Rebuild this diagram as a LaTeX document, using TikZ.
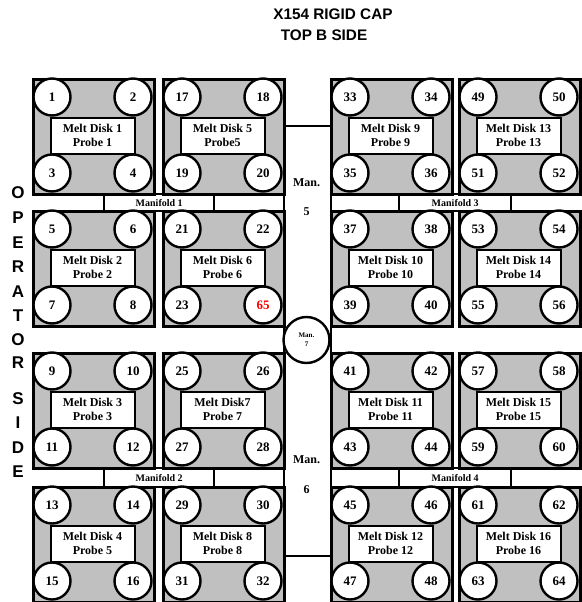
\documentclass[tikz,border=0pt]{standalone}
\usepackage{fontspec}
\setmainfont{Liberation Serif}
\newfontfamily\arialfont{Liberation Sans}
\definecolor{blockgray}{RGB}{192,192,192}
\begin{document}
\begin{tikzpicture}[x=1pt,y=-1pt,
  blockbox/.style={draw=black,fill=blockgray,line width=2.6pt,minimum width=121pt,minimum height=115pt,inner sep=0pt,anchor=north west},
  pin/.style={circle,draw=black,fill=white,line width=2.4pt,minimum size=37pt,inner sep=0pt,font=\bfseries\fontsize{13}{13}\selectfont},
  disklabel/.style={draw=black,fill=white,line width=2pt,minimum width=84pt,minimum height=36pt,inner sep=0pt,align=center,font=\bfseries\fontsize{12}{14}\selectfont},
  mbar/.style={draw=black,fill=white,line width=2.4pt,inner sep=0pt,anchor=north west,font=\bfseries\fontsize{10}{10}\selectfont},
  mantext/.style={font=\bfseries\fontsize{12}{12}\selectfont,inner sep=0pt},
  titletext/.style={font=\arialfont\bfseries\fontsize{15.3}{16}\selectfont,inner sep=0pt},
  sidetext/.style={font=\arialfont\bfseries\fontsize{17}{17}\selectfont,inner sep=0pt}]
\useasboundingbox (0,0) rectangle (581,602);
% central manifold strip
\node[draw=black,fill=white,line width=2.4pt,minimum width=47pt,minimum height=430pt,inner sep=0pt,anchor=north west] (manstrip) at (283,125) {};
% manifold bars
\node[mbar,minimum width=110pt,minimum height=17pt] (mf1) at (103,193) {Manifold 1};
\node[mbar,minimum width=70pt,minimum height=17pt] (mf1b) at (213,193) {};
\node[mbar,minimum width=68pt,minimum height=17pt] (mf3b) at (330,193) {};
\node[mbar,minimum width=112pt,minimum height=17pt] (mf3) at (398,193) {Manifold 3};
\node[mbar,minimum width=110pt,minimum height=19pt] (mf2) at (103,467) {Manifold 2};
\node[mbar,minimum width=70pt,minimum height=19pt] (mf2b) at (213,467) {};
\node[mbar,minimum width=68pt,minimum height=19pt] (mf4b) at (330,467) {};
\node[mbar,minimum width=112pt,minimum height=19pt] (mf4) at (398,467) {Manifold 4};
% blocks
\foreach \cx/\ry/\id/\a/\b/\c/\d/\la/\lb in {
  32/78/1/1/2/3/4/{Melt Disk 1}/{Probe 1},
  162/78/5/17/18/19/20/{Melt Disk 5}/{Probe5},
  330/78/9/33/34/35/36/{Melt Disk 9}/{Probe 9},
  458/78/13/49/50/51/52/{Melt Disk 13}/{Probe 13},
  32/210/2/5/6/7/8/{Melt Disk 2}/{Probe 2},
  162/210/6/21/22/23/{\textcolor{red}{65}}/{Melt Disk 6}/{Probe 6},
  330/210/10/37/38/39/40/{Melt Disk 10}/{Probe 10},
  458/210/14/53/54/55/56/{Melt Disk 14}/{Probe 14},
  32/352/3/9/10/11/12/{Melt Disk 3}/{Probe 3},
  162/352/7/25/26/27/28/{Melt Disk7}/{Probe 7},
  330/352/11/41/42/43/44/{Melt Disk 11}/{Probe 11},
  458/352/15/57/58/59/60/{Melt Disk 15}/{Probe 15},
  32/486/4/13/14/15/16/{Melt Disk 4}/{Probe 5},
  162/486/8/29/30/31/32/{Melt Disk 8}/{Probe 8},
  330/486/12/45/46/47/48/{Melt Disk 12}/{Probe 12},
  458/486/16/61/62/63/64/{Melt Disk 16}/{Probe 16}}
{
  \node[blockbox] (blk\id) at (\cx,\ry) {};
  \node[disklabel] (blk\id-t) at ({\cx+60.5},{\ry+57.5}) {\la\\\lb};
  \node[pin] (blk\id-a) at ({\cx+20},{\ry+19}) {\a};
  \node[pin] (blk\id-b) at ({\cx+101},{\ry+19}) {\b};
  \node[pin] (blk\id-c) at ({\cx+20},{\ry+95}) {\c};
  \node[pin] (blk\id-d) at ({\cx+101},{\ry+95}) {\d};
}
% central circle
\node[circle,draw=black,fill=white,line width=2.4pt,minimum size=46pt,inner sep=0pt,align=center,font=\bfseries\fontsize{7}{9}\selectfont] (man7) at (306.5,340) {Man.\\7};
% manifold strip labels
\node[mantext] (m5a) at (306.5,183) {Man.};
\node[mantext] (m5b) at (306.5,212) {5};
\node[mantext] (m6a) at (306.5,460) {Man.};
\node[mantext] (m6b) at (306.5,490) {6};
% title
\node[titletext] (title1) at (333,14) {X154 RIGID CAP};
\node[titletext] (title2) at (324,35) {TOP B SIDE};
% operator side
\foreach \ch/\yy [count=\k] in {O/193,P/218,E/243,R/267,A/292,T/316,O/340,R/363,S/399,I/423,D/448,E/472}
  \node[sidetext] (side\k) at (18,\yy) {\ch};
\end{tikzpicture}
\end{document}
